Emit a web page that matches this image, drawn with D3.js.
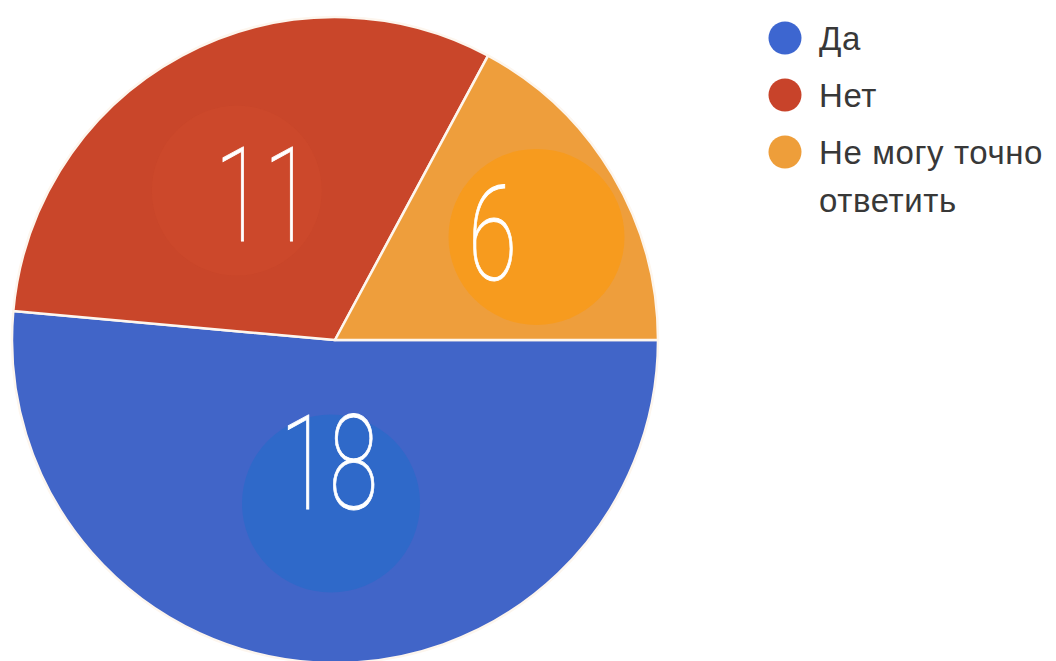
<!DOCTYPE html>
<html>
<head>
<meta charset="utf-8">
<script src="https://cdn.jsdelivr.net/npm/d3@7"></script>
<style>
  html, body { margin: 0; padding: 0; background: #ffffff; }
  svg { display: block; }
</style>
</head>
<body>
<svg id="chart" width="1056" height="661"></svg>
<script>
// ---- data ----
const categories = ["Да", "Нет", "Не могу точно ответить"];
const legendLines = [["Да"], ["Нет"], ["Не могу точно", "ответить"]];
const values = [18, 11, 6];

// ---- style / layout ----
const sliceColors = ["#4165C8", "#C9462A", "#EE9E3C"];
const haloColors  = ["#2F69C9", "#CD4A2C", "#F79B1E"];
const haloOpacity = [1, 0.55, 1];
const legendColors = ["#3D66D0", "#C8432A", "#EE9E3A"];
const cx = 335, cy = 340, R = 323;
const labelR = R * 0.55;
const haloNudge = [[4, -14], [-14, 7], [49, -12]];
const textNudge = [[2, -55], [13, 10], [5, -16]];
const haloR = [89, 85, 88];

const svg = d3.select("#chart");
const g = svg.append("g").attr("transform", `translate(${cx},${cy})`);

const pie = d3.pie().sort(null).value(d => d)
  .startAngle(Math.PI / 2).endAngle(Math.PI / 2 + 2 * Math.PI);
const arcs = pie(values);
const arc = d3.arc().innerRadius(0).outerRadius(R);
const labelArc = d3.arc().innerRadius(labelR).outerRadius(labelR);

// slices
g.selectAll("path.slice").data(arcs).join("path")
  .attr("class", "slice")
  .attr("d", arc)
  .attr("fill", (d, i) => sliceColors[i])
  .attr("stroke", "#fdf6ee")
  .attr("stroke-width", 2.5)
  .attr("stroke-linejoin", "round");

// halos
g.selectAll("circle.halo").data(arcs).join("circle")
  .attr("class", "halo")
  .attr("cx", (d, i) => labelArc.centroid(d)[0] + haloNudge[i][0])
  .attr("cy", (d, i) => labelArc.centroid(d)[1] + haloNudge[i][1])
  .attr("r", (d, i) => haloR[i])
  .attr("fill", (d, i) => haloColors[i])
  .attr("opacity", (d, i) => haloOpacity[i]);

// value labels
g.selectAll("text.val").data(arcs).join("text")
  .attr("class", "val")
  .attr("transform", (d, i) => {
    const c = labelArc.centroid(d);
    return `translate(${c[0] + textNudge[i][0]},${c[1] + textNudge[i][1] + 47}) scale(0.68,1)`;
  })
  .attr("text-anchor", "middle")
  .attr("fill", "#ffffff")
  .attr("stroke", "#ffffff")
  .attr("stroke-width", 0.9)
  .style("font-family", "Roboto, 'DejaVu Sans', sans-serif")
  .style("font-weight", 100)
  .style("font-size", "132px")
  .text(d => d.data);

// legend
const legend = svg.append("g").attr("transform", "translate(785,38)");
const items = legend.selectAll("g.item").data(categories).join("g")
  .attr("class", "item")
  .attr("transform", (d, i) => `translate(0,${i * 57})`);
items.append("circle")
  .attr("r", 16.5)
  .attr("fill", (d, i) => legendColors[i]);
items.append("text")
  .attr("fill", "#383838")
  .style("font-family", "'Liberation Sans', Arial, sans-serif")
  .style("font-size", "33px")
  .style("letter-spacing", "0.6px")
  .each(function (d, i) {
    const t = d3.select(this);
    legendLines[i].forEach((line, j) => {
      t.append("tspan").attr("x", 34).attr("y", 12 + j * 48).text(line);
    });
  });
</script>
</body>
</html>
